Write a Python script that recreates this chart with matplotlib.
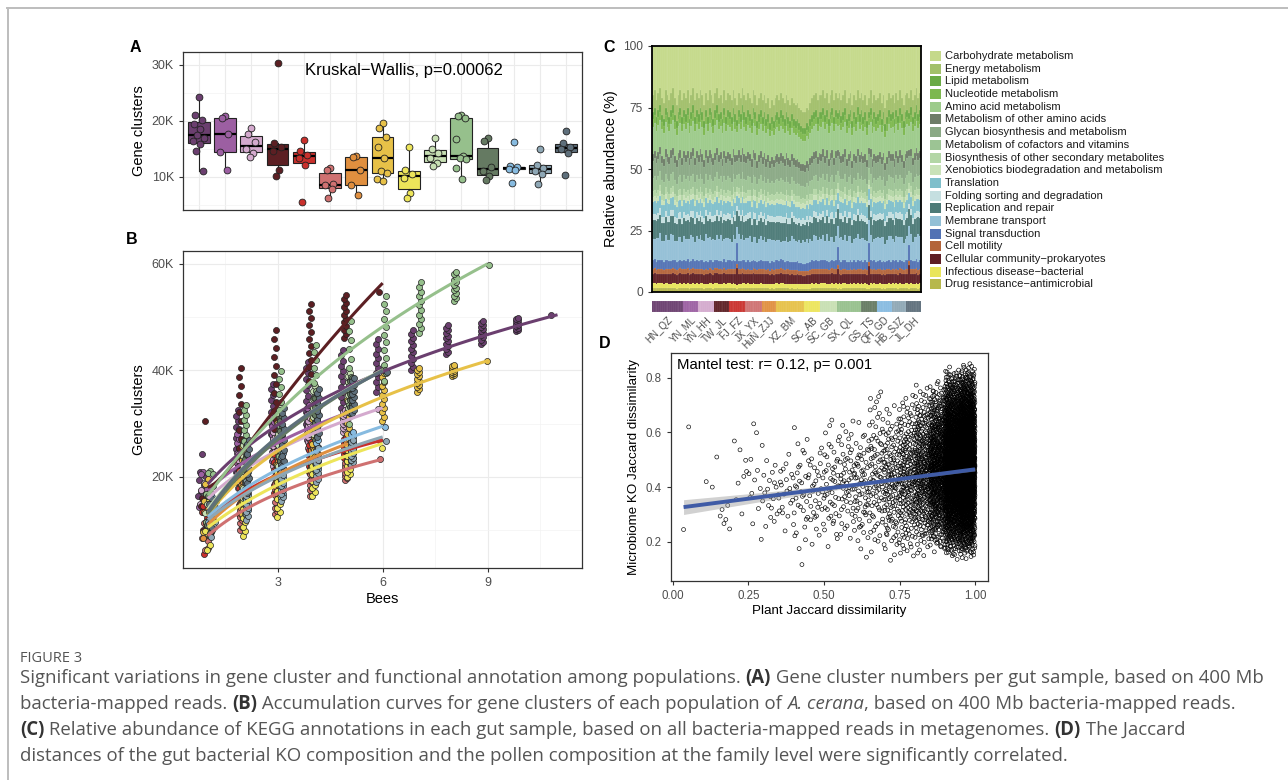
import numpy as np
import matplotlib
matplotlib.use("Agg")
import matplotlib.pyplot as plt
from matplotlib.patches import Rectangle
from matplotlib.lines import Line2D

plt.rcParams['font.family'] = ['Liberation Sans', 'DejaVu Sans']

# ---------------- data ----------------
groups = ["HN_QZ", "YN_ML", "YN_HH", "TW_JL", "FJ_FZ", "JX_YX", "HuN_ZJJ", "XZ_BM",
          "SC_AB", "SC_GB", "SX_QL", "GS_TS", "QH_GD", "HB_SJZ", "JL_DH"]
group_colors = ["#6B3F6F", "#9C5FA2", "#D4AACE", "#5C1F23", "#C9302C", "#CF7171", "#E08F3F",
                "#E7C148", "#EDE55A", "#C7DFB3", "#96C08C", "#657A62", "#87BBE0", "#8EA7B5", "#5E6F7B"]

# Panel A: gene clusters per sample (thousands)
gene_clusters = [
    [24.3, 21.0, 20.2, 19.5, 18.5, 17.4, 17.0, 16.4, 15.8, 14.7, 11.0],
    [20.9, 20.5, 17.6, 14.4, 11.3],
    [18.8, 17.6, 16.2, 15.0, 14.3, 13.5],
    [30.4, 16.0, 15.4, 14.6, 11.3, 10.1],
    [16.6, 14.6, 14.0, 13.4, 12.2, 5.6],
    [11.6, 11.3, 8.7, 8.5, 7.9, 6.3],
    [13.8, 13.5, 11.3, 8.6, 6.7],
    [19.6, 18.7, 17.2, 15.4, 13.4, 11.1, 10.7, 9.6, 9.3],
    [15.4, 11.3, 10.5, 9.8, 7.2, 6.3],
    [16.9, 14.9, 14.3, 13.3, 12.5, 11.9],
    [21.1, 20.8, 20.6, 16.8, 13.8, 13.4, 13.2, 11.6, 9.6],
    [16.9, 16.4, 11.7, 11.0, 10.1, 9.5],
    [16.3, 11.9, 11.7, 11.5, 11.3, 8.9],
    [14.9, 12.2, 11.6, 11.1, 10.6, 8.8],
    [18.2, 16.0, 15.4, 14.9, 14.3, 10.4],
]

# Panel B: accumulation curve values at 1..n bees (thousands)
accum_curve = [
    [19, 24.5, 29.3, 33.3, 37, 40.3, 42.8, 45.2, 47.2, 48.5, 49.3],
    [17.5, 22.5, 26.5, 29.5, 32],
    [16, 21, 25, 28.3, 30.8, 32.8],
    [17.8, 25.5, 33.3, 41, 49, 57],
    [12, 17, 20.5, 23, 25, 27],
    [9, 13.5, 17, 19.5, 21.5, 23.3],
    [11, 16.5, 20.5, 23.5, 26.3],
    [13, 19.5, 25, 29, 32.3, 35, 37.5, 39.7, 41.7],
    [10.5, 15, 18.5, 21.5, 24, 26.3],
    [14, 21.5, 27.5, 32.5, 36.5, 40],
    [16.5, 25, 32, 38, 43.5, 48, 52.5, 56.5, 60],
    [13, 21, 27, 32, 36.3, 40],
    [12.5, 17.5, 21.5, 24.5, 27.2, 29.5],
    [12, 16.5, 20, 23, 25.5, 27.4],
    [13.5, 21.5, 27.5, 32.5, 36.5, 39.8],
]
# permutation point ranges at 2..n bees (low / high, thousands)
perm_low = [
    [21, 26, 30, 33, 36, 40, 43, 45, 47.3, 50.3],
    [19, 23, 27, 31.5],
    [18, 22, 25.5, 28.5, 32.8],
    [22, 29, 38, 46, 54.7],
    [13, 17, 21, 23.5, 27],
    [10, 13, 16.5, 19.5, 23.3],
    [13, 17, 21, 26.3],
    [13, 17, 21.5, 26, 30.5, 36, 39, 41.7],
    [9, 12.5, 16.5, 20, 25.5],
    [16, 22, 28, 33, 40],
    [23, 24, 29, 30, 38, 47, 53, 59.7],
    [16, 21, 27, 32, 40],
    [13, 16, 19.5, 23, 29.4],
    [12, 15.5, 19, 22.3, 26.8],
    [17, 22, 27.5, 32, 39.6],
]
perm_high = [
    [32.5, 37.5, 41.5, 43.8, 45.8, 47.5, 48.5, 49.3, 49.9, 50.3],
    [29, 32, 33.5, 31.5],
    [25, 29, 31, 32.5, 32.8],
    [40.5, 47.5, 52.5, 54.2, 54.7],
    [22, 25, 26.5, 27.5, 27],
    [17, 19.5, 22, 23, 23.3],
    [19, 23, 25.5, 26.3],
    [27, 31.5, 34.5, 37.5, 39.5, 40.5, 41, 41.7],
    [18, 21.5, 24, 25.5, 25.5],
    [27, 33, 37, 39.5, 40],
    [33.5, 39.8, 44.8, 49.2, 54, 56.5, 58.5, 59.7],
    [26, 31.5, 35.5, 38.5, 40],
    [21, 24.5, 27, 28.5, 29.4],
    [20, 23, 25.5, 27, 26.8],
    [27, 33, 36.5, 38.5, 39.6],
]

# Panel C: KEGG categories (legend order, top of stack first)
kegg_names = ["Carbohydrate metabolism", "Energy metabolism", "Lipid metabolism",
              "Nucleotide metabolism", "Amino acid metabolism", "Metabolism of other amino acids",
              "Glycan biosynthesis and metabolism", "Metabolism of cofactors and vitamins",
              "Biosynthesis of other secondary metabolites",
              "Xenobiotics biodegradation and metabolism", "Translation",
              "Folding sorting and degradation", "Replication and repair", "Membrane transport",
              "Signal transduction", "Cell motility", "Cellular community\u2212prokaryotes",
              "Infectious disease\u2212bacterial", "Drug resistance\u2212antimicrobial"]
kegg_colors = ["#C5D98A", "#A2C06A", "#6AAA45", "#7DB84E", "#9CCB8A", "#6E7D68", "#8AA985",
               "#9CC494", "#B3D6A6", "#C9E2B8", "#7FBFCB", "#C5DFE0", "#4C7A77", "#93C0D6",
               "#5272B4", "#B3643A", "#5E1E24", "#E9E55A", "#B7B84C"]
kegg_base = [19.0, 7.0, 3.0, 3.0, 11.0, 3.0, 7.0, 5.5, 2.5, 2.0, 5.0, 2.5, 7.5, 9.0,
             3.5, 2.0, 4.0, 2.0, 1.5]
carb_by_group = [
    [20, 18, 22, 19, 17, 21, 23, 18, 20, 22, 19, 17, 21, 24, 20, 18, 22],
    [19, 21, 18, 23, 20, 17, 22, 19],
    [21, 18, 20, 24, 19, 22, 18, 20, 23],
    [19, 17, 21, 20, 23, 18, 22, 19],
    [20, 22, 18, 21, 24, 19, 21, 17, 20],
    [22, 19, 21, 23, 18, 20, 24, 21, 19],
    [22, 20, 23, 21, 25, 22, 24, 21],
    [20, 22, 19, 21, 23, 20, 22, 24, 21, 23, 24, 23, 25, 26, 27],
    [27, 25, 26, 23, 21, 20, 19, 22, 20],
    [20, 18, 21, 19, 23, 20, 18, 22, 19],
    [21, 19, 22, 20, 18, 23, 21, 19, 24, 20, 22, 18, 21],
    [19, 22, 20, 24, 21, 18, 23, 20, 22],
    [21, 19, 23, 20, 25, 22, 19, 21],
    [20, 23, 19, 22, 18, 21, 24, 20],
    [19, 21, 18, 22, 20, 17, 21, 19],
]
membrane_by_group = [
    [9, 8, 10, 9, 11, 8, 9, 10, 8, 9, 11, 10, 8, 9, 10, 9, 8],
    [10, 9, 8, 10, 11, 9, 8, 10],
    [9, 10, 8, 9, 11, 10, 9, 8, 10],
    [8, 10, 9, 11, 9, 8, 10, 9],
    [9, 8, 10, 9, 8, 11, 9, 10, 8],
    [10, 9, 11, 8, 9, 10, 8, 9, 10],
    [9, 10, 8, 9, 11, 9, 10, 8],
    [8, 9, 7, 8, 9, 10, 8, 9, 11, 10, 9, 8, 10, 9, 11],
    [10, 11, 9, 10, 8, 11, 10, 9, 10],
    [9, 10, 8, 11, 9, 10, 9, 8, 10],
    [10, 9, 11, 8, 10, 9, 11, 10, 8, 9, 10, 11, 9],
    [9, 10, 8, 9, 11, 10, 8, 9, 10],
    [10, 9, 11, 10, 8, 9, 10, 11],
    [9, 8, 10, 11, 9, 10, 8, 9],
    [10, 9, 11, 8, 10, 9, 12, 10],
]
spike_sample = [46, 101, 118, 140]
spike_signal = [10.0, 8.0, 9.0, 7.0]
spike_community = [8.0, 7.0, 9.0, 9.0]

# Panel D: Mantel scatter, summarised per x-bin
d_single_x = [0.035, 0.052, 0.11, 0.13, 0.145]
d_single_y = [0.245, 0.62, 0.42, 0.40, 0.51]
d_bin_start = [0.15, 0.20, 0.25, 0.30, 0.35, 0.40, 0.45, 0.50, 0.55, 0.60, 0.65, 0.70,
               0.75, 0.80, 0.85, 0.90, 0.95]
d_bin_count = [6, 8, 14, 18, 22, 32, 32, 45, 52, 65, 85, 125, 185, 300, 600, 1300, 1700]
d_bin_ymin = [0.20, 0.25, 0.17, 0.20, 0.20, 0.09, 0.15, 0.15, 0.16, 0.13, 0.13, 0.11,
              0.11, 0.14, 0.15, 0.13, 0.13]
d_bin_ymax = [0.40, 0.68, 0.71, 0.56, 0.56, 0.66, 0.60, 0.68, 0.69, 0.66, 0.80, 0.72,
              0.77, 0.79, 0.80, 0.85, 0.86]
d_bin_ymode = [0.30, 0.42, 0.40, 0.38, 0.38, 0.40, 0.38, 0.40, 0.42, 0.40, 0.43, 0.42,
               0.44, 0.45, 0.46, 0.47, 0.47]
fit_x = [0.035, 1.0]
fit_y = [0.327, 0.465]
ci_x = [0.035, 0.3, 0.6, 0.85, 1.0]
ci_half = [0.027, 0.016, 0.008, 0.005, 0.006]

# ---------------- helpers ----------------
W, H = 1288, 780
fig = plt.figure(figsize=(W / 100, H / 100), dpi=100)
fig.patch.set_facecolor("white")


def rect(l, t, r, b):
    return [l / W, 1 - b / H, (r - l) / W, (b - t) / H]


def vdc(i, base):
    f, r = 1.0, 0.0
    while i > 0:
        f /= base
        r += f * (i % base)
        i //= base
    return r


def style_bw(ax, grid=True, labelsize=9):
    for s in ax.spines.values():
        s.set_color("#333333")
        s.set_linewidth(0.9)
    ax.tick_params(which="major", colors="#333333", labelcolor="#4D4D4D", length=3,
                   width=0.8, labelsize=labelsize)
    ax.tick_params(which="minor", length=0)
    if grid:
        ax.grid(True, which="major", color="#EBEBEB", lw=0.8)
        ax.grid(True, which="minor", color="#F3F3F3", lw=0.5)
        ax.set_axisbelow(True)


# ---------------- Panel A ----------------
axA = fig.add_axes(rect(183, 52, 582, 210))
style_bw(axA)
pos = np.arange(1, len(groups) + 1)
bp = axA.boxplot(gene_clusters, positions=pos, widths=0.82, patch_artist=True,
                 showfliers=False, showcaps=False,
                 medianprops=dict(color="black", lw=1.6),
                 boxprops=dict(edgecolor="#222222", lw=0.8),
                 whiskerprops=dict(color="#222222", lw=0.8), zorder=2)
for patch, c in zip(bp["boxes"], group_colors):
    patch.set_facecolor(c)
for g, vals in enumerate(gene_clusters):
    offs = np.array([(vdc(i + 1, 2) - 0.5) * 0.5 for i in range(len(vals))])
    axA.scatter(pos[g] + offs, vals, s=24, c=group_colors[g], edgecolors="#222222",
                linewidths=0.6, zorder=3)
axA.set_xlim(0.4, 15.6)
axA.set_ylim(4.1, 32.3)
axA.set_xticks(pos)
axA.tick_params(axis="x", length=0, labelbottom=False)
axA.set_yticks([10, 20, 30])
axA.set_yticklabels(["10K", "20K", "30K"])
axA.set_yticks([5, 15, 25], minor=True)
axA.set_ylabel("Gene clusters", fontsize=10.5)
axA.text(0.554, 0.886, "Kruskal\u2212Wallis, p=0.00062", transform=axA.transAxes,
         ha="center", va="center", fontsize=12)

# ---------------- Panel B ----------------
axB = fig.add_axes(rect(183, 251, 582, 568))
style_bw(axB)
for g in range(len(groups)):
    off = (g - 7) * 0.022
    n = len(accum_curve[g])
    xs = [1 + off + (vdc(i + 1, 2) - 0.5) * 0.3 for i in range(len(gene_clusters[g]))]
    ys = list(gene_clusters[g])
    for k in range(2, n + 1):
        lo, hi = perm_low[g][k - 2], perm_high[g][k - 2]
        npts = 1 if abs(hi - lo) < 1e-9 else 12
        col = np.linspace(lo, hi, npts)
        for j, v in enumerate(col):
            xs.append(k + off + (0.03 if j % 2 else -0.03))
            ys.append(v)
    axB.scatter(xs, ys, s=19, c=group_colors[g], edgecolors="#222222", linewidths=0.5,
                zorder=3)
for g in range(len(groups)):
    n = len(accum_curve[g])
    k = np.arange(1, n + 1)
    coef = np.polyfit(np.log(k), accum_curve[g], 2)
    xx = np.linspace(1, n, 120)
    axB.plot(xx, np.polyval(coef, np.log(xx)), color=group_colors[g], lw=2.2, zorder=4,
             solid_capstyle="butt")
axB.set_xlim(0.29, 11.7)
axB.set_ylim(2.9, 62.4)
axB.set_xticks([3, 6, 9])
axB.set_xticks([1.5, 4.5, 7.5, 10.5], minor=True)
axB.set_yticks([20, 40, 60])
axB.set_yticklabels(["20K", "40K", "60K"])
axB.set_yticks([10, 30, 50], minor=True)
axB.set_ylabel("Gene clusters", fontsize=10.5)
axB.set_xlabel("Bees", fontsize=10.5, labelpad=2)

# ---------------- Panel C ----------------
counts = [len(c) for c in carb_by_group]
carb = np.concatenate([np.array(c, float) for c in carb_by_group])
memb = np.concatenate([np.array(m, float) for m in membrane_by_group])
nS = len(carb)
comp = np.tile(np.array(kegg_base, float), (nS, 1))
comp[:, 13] = memb
for si, sv, cv in zip(spike_sample, spike_signal, spike_community):
    comp[si, 14] = sv
    comp[si, 16] = cv
rest = comp[:, 1:]
rest = rest / rest.sum(axis=1, keepdims=True) * (100 - carb)[:, None]
comp[:, 0] = carb
comp[:, 1:] = rest

axC = fig.add_axes(rect(652, 46, 921, 292))
idx = np.arange(nS)
bottom = np.zeros(nS)
for ci in range(len(kegg_names) - 1, -1, -1):
    axC.bar(idx, comp[:, ci], bottom=bottom, width=1.0, color=kegg_colors[ci],
            edgecolor=(1, 1, 1, 0.15), linewidth=0.3)
    bottom += comp[:, ci]
axC.set_xlim(-0.5, nS - 0.5)
axC.set_ylim(0, 100)
axC.set_xticks([])
axC.set_yticks([0, 25, 50, 75, 100])
for s in axC.spines.values():
    s.set_color("black")
    s.set_linewidth(1.3)
axC.tick_params(axis="y", colors="#333333", labelcolor="#4D4D4D", length=3, width=0.8,
                labelsize=8.6)
axC.set_ylabel("Relative abundance (%)", fontsize=10.5)

# sample strip
axS = fig.add_axes(rect(652, 301, 921, 312))
grp_of_sample = np.repeat(np.arange(len(groups)), counts)
axS.bar(idx, np.ones(nS), width=1.0, color=[group_colors[g] for g in grp_of_sample],
        edgecolor=(1, 1, 1, 0.18), linewidth=0.3)
axS.set_xlim(-0.5, nS - 0.5)
axS.set_ylim(0, 1)
for s in axS.spines.values():
    s.set_visible(False)
axS.set_yticks([])
starts = np.concatenate([[0], np.cumsum(counts)[:-1]])
centers = starts + (np.array(counts) - 1) / 2.0
axS.set_xticks(centers)
axS.set_xticklabels(groups, rotation=45, ha="right", va="top", rotation_mode="anchor",
                    fontsize=7, color="#4D4D4D")
axS.tick_params(axis="x", length=0, pad=2)

# legend (manual)
for i, (nm, c) in enumerate(zip(kegg_names, kegg_colors)):
    yc = 56 + i * 12.69
    fig.add_artist(Rectangle((930 / W, 1 - (yc + 5) / H), 10.5 / W, 10 / H,
                             transform=fig.transFigure, facecolor=c, edgecolor="none"))
    fig.text(945 / W, 1 - yc / H, nm, ha="left", va="center", fontsize=8, color="#1a1a1a")

# ---------------- Panel D ----------------
axD = fig.add_axes(rect(671, 353, 988, 581))
style_bw(axD, grid=False, labelsize=8.3)
dx = list(d_single_x)
dy = list(d_single_y)
hidx = 1
for b0, cnt, a, bb, c in zip(d_bin_start, d_bin_count, d_bin_ymin, d_bin_ymax, d_bin_ymode):
    for i in range(cnt):
        u1 = vdc(hidx, 2)
        u2 = vdc(hidx, 3)
        hidx += 1
        x = b0 + 0.05 * u1
        fc = (c - a) / (bb - a)
        if u2 < fc:
            y = a + np.sqrt(u2 * (bb - a) * (c - a))
        else:
            y = bb - np.sqrt((1 - u2) * (bb - a) * (bb - c))
        dx.append(min(x, 1.0))
        dy.append(y)
axD.scatter(dx, dy, s=8, facecolors="none", edgecolors="black", linewidths=0.45, zorder=2)
cy = np.interp(ci_x, fit_x, fit_y)
axD.fill_between(ci_x, cy - np.array(ci_half), cy + np.array(ci_half), color="#999999",
                 alpha=0.45, lw=0, zorder=3)
axD.plot(fit_x, fit_y, color="#3F5BA6", lw=2.8, zorder=4, solid_capstyle="butt")
axD.set_xlim(-0.0066, 1.043)
axD.set_ylim(0.057, 0.89)
axD.set_xticks([0, 0.25, 0.5, 0.75, 1.0])
axD.set_xticklabels(["0.00", "0.25", "0.50", "0.75", "1.00"])
axD.set_yticks([0.2, 0.4, 0.6, 0.8])
axD.set_yticklabels(["0.2", "0.4", "0.6", "0.8"])
axD.set_xlabel("Plant Jaccard dissimilarity", fontsize=9.6, labelpad=2)
axD.set_ylabel("Microbiome KO Jaccard dissimilarity", fontsize=9.6)
axD.text(677 / W, 1 - 365 / H, "Mantel test: r= 0.12, p= 0.001", transform=fig.transFigure,
         ha="left", va="center", fontsize=10.7)

# ---------------- panel letters ----------------
for lab, x, y in [("A", 130, 47), ("B", 126, 240), ("C", 603, 47), ("D", 599, 344)]:
    fig.text(x / W, 1 - y / H, lab, fontsize=11.5, fontweight="bold", ha="left", va="center")

# ---------------- frame ----------------
fig.add_artist(Line2D([7 / W, 1], [1 - 7.5 / H, 1 - 7.5 / H], transform=fig.transFigure,
                      color="#BDBDBD", lw=1.4))
fig.add_artist(Line2D([7.5 / W, 7.5 / W], [0, 1 - 7.5 / H], transform=fig.transFigure,
                      color="#BDBDBD", lw=1.4))

# ---------------- caption ----------------
cap_font = ["Open Sans", "DejaVu Sans"]
fig.text(20 / W, 1 - 658 / H, "FIGURE 3", fontsize=10.5, color="#555555", family=cap_font,
         ha="left", va="center")
caption_lines = [
    [("Significant variations in gene cluster and functional annotation among populations. ", "n"),
     ("(A)", "b"), (" Gene cluster numbers per gut sample, based on 400 Mb", "n")],
    [("bacteria-mapped reads. ", "n"), ("(B)", "b"),
     (" Accumulation curves for gene clusters of each population of ", "n"),
     ("A. cerana", "i"), (", based on 400 Mb bacteria-mapped reads.", "n")],
    [("(C)", "b"),
     (" Relative abundance of KEGG annotations in each gut sample, based on all bacteria-mapped reads in metagenomes. ", "n"),
     ("(D)", "b"), (" The Jaccard", "n")],
    [("distances of the gut bacterial KO composition and the pollen composition at the family level were significantly correlated.", "n")],
]
renderer = fig.canvas.get_renderer()


def run_width(runs, size):
    tot = 0
    for txt, st in runs:
        t = fig.text(0, 0, txt, fontsize=size, family=cap_font,
                     fontweight="bold" if st == "b" else "normal",
                     fontstyle="italic" if st == "i" else "normal")
        tot += t.get_window_extent(renderer).width
        t.remove()
    return tot


size = 12.0
w0 = run_width(caption_lines[0], size)
size = size * 1242.0 / w0
for li, runs in enumerate(caption_lines):
    x = 20.0
    yc = 678 + li * 26
    for txt, st in runs:
        t = fig.text(x / W, 1 - yc / H, txt, fontsize=size, family=cap_font,
                     color="#333333" if st == "b" else "#555555",
                     fontweight="bold" if st == "b" else "normal",
                     fontstyle="italic" if st == "i" else "normal",
                     ha="left", va="center")
        x += t.get_window_extent(renderer).width

fig.savefig("out.png", dpi=100, facecolor="white")
